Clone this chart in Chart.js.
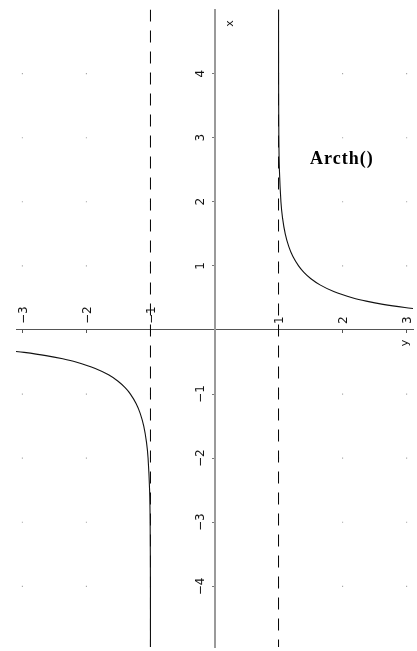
<!DOCTYPE html>
<html>
<head>
<meta charset="utf-8">
<script src="https://cdn.jsdelivr.net/npm/chart.js@4"></script>
<style>
  html, body { margin: 0; padding: 0; background: #fff; }
  canvas { display: block; }
</style>
</head>
<body>
<canvas id="chart" width="417" height="651"></canvas>
<script>
// Arcth(x): two branches, |x| > 1, asymptotes at x = ±1
const branchPosX = [1.0001, 1.0007, 1.0050, 1.0136, 1.0373, 1.0623, 1.1048, 1.1605, 1.2229, 1.3130, 1.3961, 1.5060, 1.6546, 1.8620, 2.1640, 2.3702, 2.6319, 2.9729, 3.2309];
const branchPosY = [5.0, 4.0, 3.0, 2.5, 2.0, 1.75, 1.5, 1.3, 1.15, 1.0, 0.9, 0.8, 0.7, 0.6, 0.5, 0.45, 0.4, 0.35, 0.32];
const branchNegX = [-3.2309, -2.9729, -2.6319, -2.3702, -2.1640, -1.8620, -1.6546, -1.5060, -1.3961, -1.3130, -1.2229, -1.1605, -1.1048, -1.0623, -1.0373, -1.0136, -1.0050, -1.0007, -1.0001];
const branchNegY = [-0.32, -0.35, -0.4, -0.45, -0.5, -0.6, -0.7, -0.8, -0.9, -1.0, -1.15, -1.3, -1.5, -1.75, -2.0, -2.5, -3.0, -4.0, -5.0];
const asymptotes = [-1, 1];
const xTicks = [-3, -2, -1, 1, 2, 3];
const yTicks = [4, 3, 2, 1, -1, -2, -3, -4];
const xRange = [-3.1, 3.1];
const yRange = [-4.946, 5];
const titleText = 'Arcth()';

const toPoints = (xs, ys) => xs.map((v, i) => ({ x: v, y: ys[i] }));
const fmt = v => (v < 0 ? '\u2212' + Math.abs(v) : String(v));

// faint lattice dots at every integer grid crossing
const latticeDots = xTicks.flatMap(xv => yTicks.map(yv => ({ x: xv, y: yv })));

const asymptoteSets = asymptotes.map(a => ({
  data: [{ x: a, y: yRange[1] }, { x: a, y: yRange[0] }],
  showLine: true,
  borderColor: '#000',
  borderWidth: 1,
  borderDash: [12, 9],
  pointRadius: 0,
  tension: 0
}));

const curveStyle = {
  showLine: true,
  borderColor: '#111',
  borderWidth: 1.1,
  pointRadius: 0,
  tension: 0.3
};

const axisDecor = {
  id: 'axisDecor',
  afterDraw(chart) {
    const { ctx, scales: { x, y } } = chart;
    const x0 = x.getPixelForValue(0);
    const y0 = y.getPixelForValue(0);
    ctx.save();
    ctx.fillStyle = '#111';
    ctx.font = '12px "DejaVu Sans"';
    ctx.textBaseline = 'middle';

    // horizontal axis numbers, turned a quarter-turn, sitting just above the line
    xTicks.forEach(v => {
      ctx.save();
      ctx.translate(x.getPixelForValue(v) + 1, y0 - 6);
      ctx.rotate(-Math.PI / 2);
      ctx.textAlign = 'left';
      ctx.fillText(fmt(v), 0, 0);
      ctx.restore();
    });

    // vertical axis numbers, turned the same way, left of the line
    yTicks.forEach(v => {
      ctx.save();
      ctx.translate(x0 - 14, y.getPixelForValue(v));
      ctx.rotate(-Math.PI / 2);
      ctx.textAlign = 'center';
      ctx.fillText(fmt(v), 0, 0);
      ctx.restore();
    });

    // axis names
    ctx.font = '11px "DejaVu Sans"';
    ctx.save();
    ctx.translate(x0 + 16, 23.5);
    ctx.rotate(-Math.PI / 2);
    ctx.textAlign = 'center';
    ctx.fillText('x', 0, 0);
    ctx.restore();

    ctx.save();
    ctx.translate(x.getPixelForValue(3) - 1, y0 + 13);
    ctx.rotate(-Math.PI / 2);
    ctx.textAlign = 'center';
    ctx.fillText('y', 0, 0);
    ctx.restore();

    // function name
    ctx.fillStyle = '#000';
    ctx.font = 'bold 18px "Liberation Serif"';
    ctx.letterSpacing = '1px';
    ctx.textAlign = 'left';
    ctx.textBaseline = 'alphabetic';
    ctx.fillText(titleText, 310, 164);
    ctx.restore();
  }
};

new Chart(document.getElementById('chart'), {
  type: 'scatter',
  data: {
    datasets: [
      { data: toPoints(branchPosX, branchPosY), ...curveStyle },
      { data: toPoints(branchNegX, branchNegY), ...curveStyle },
      ...asymptoteSets,
      {
        data: latticeDots,
        pointStyle: 'rect',
        pointRadius: 0.8,
        pointBackgroundColor: '#a8a8a8',
        pointBorderWidth: 0,
        showLine: false
      }
    ]
  },
  options: {
    responsive: false,
    animation: false,
    devicePixelRatio: 1,
    layout: { padding: { left: 16, right: 1, top: 9.5, bottom: 0 } },
    plugins: { legend: { display: false }, tooltip: { enabled: false }, title: { display: false } },
    scales: {
      x: {
        type: 'linear',
        min: xRange[0],
        max: xRange[1],
        position: { y: 0 },
        afterBuildTicks: s => { s.ticks = xTicks.map(v => ({ value: v })); },
        ticks: { display: false },
        grid: { drawOnChartArea: false, drawTicks: true, tickLength: 3, color: '#555' },
        border: { display: true, color: '#555', width: 1 }
      },
      y: {
        type: 'linear',
        min: yRange[0],
        max: yRange[1],
        position: { x: 0 },
        afterBuildTicks: s => { s.ticks = yTicks.map(v => ({ value: v })); },
        ticks: { display: false },
        grid: { drawOnChartArea: false, drawTicks: true, tickLength: 2, color: '#777' },
        border: { display: true, color: '#9a9a9a', width: 2 }
      }
    }
  },
  plugins: [axisDecor]
});
</script>
</body>
</html>
